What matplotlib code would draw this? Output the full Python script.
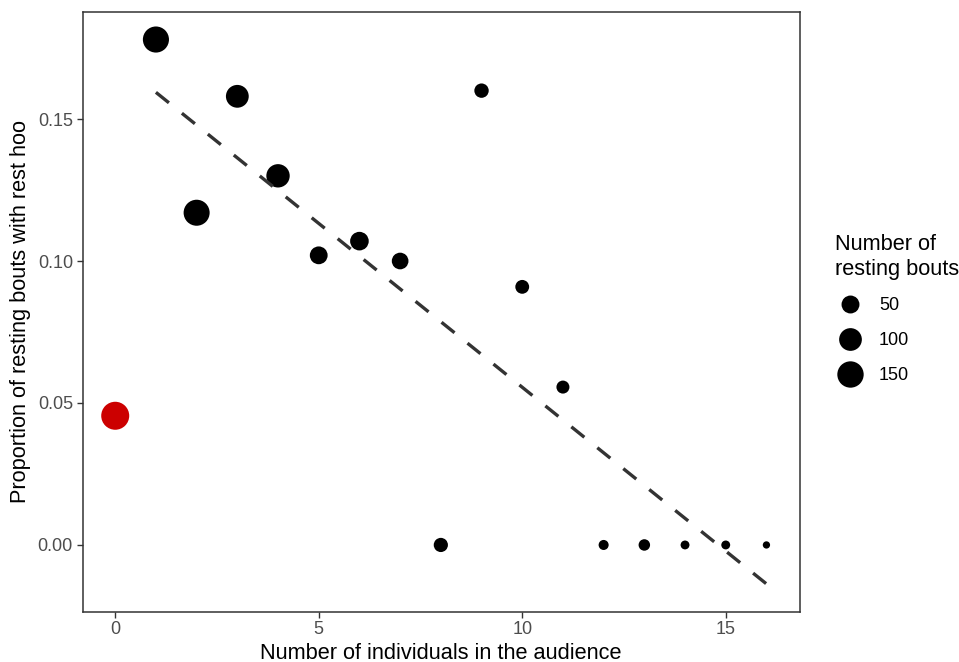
import matplotlib
matplotlib.use("Agg")
import matplotlib.pyplot as plt
from matplotlib.lines import Line2D
import numpy as np

plt.rcParams['font.family'] = ['Liberation Sans', 'DejaVu Sans']

# audience size, proportion of bouts with rest hoo, number of resting bouts
audience = [0, 1, 2, 3, 4, 5, 6, 7, 8, 9, 10, 11, 12, 13, 14, 15, 16]
prop_hoo = [0.0455, 0.178, 0.117, 0.158, 0.130, 0.102, 0.107, 0.100, 0.0,
            0.160, 0.0909, 0.0556, 0.0, 0.0, 0.0, 0.0, 0.0]
n_bouts = [176, 146, 145, 101, 108, 49, 56, 40, 24, 25, 22, 18, 8, 12, 6, 6, 5]
legend_breaks = [50, 100, 150]

# fitted trend (audience >= 1)
fit_x = [1, 16]
fit_y = [0.1594, -0.0137]

N_MIN, N_MAX = 5, 176
D_MIN, D_MAX = 7.3, 28.0   # point diameter in px


def diam_pt(n):
    t = (np.asarray(n, dtype=float) - N_MIN) / (N_MAX - N_MIN)
    d = D_MIN + (D_MAX - D_MIN) * np.sqrt(np.clip(t, 0, 1))
    return d * 0.72


fig = plt.figure(figsize=(9.59, 6.62), dpi=100)
ax = fig.add_axes([0.0862, 0.076, 0.834 - 0.0862, 0.9819 - 0.076])

cols = ['#CC0000' if a == 0 else 'black' for a in audience]
ax.scatter(audience, prop_hoo, s=diam_pt(n_bouts) ** 2, c=cols, linewidths=0, zorder=2)

ln, = ax.plot(fit_x, fit_y, color='#333333', lw=2.4, zorder=3)
ln.set_dashes((5.0, 5.0))
ln.set_dash_capstyle('butt')

ax.set_xlim(-0.8, 16.82)
ax.set_ylim(-0.0235, 0.1877)
ax.set_xticks([0, 5, 10, 15])
ax.set_yticks([0.0, 0.05, 0.10, 0.15])
ax.set_yticklabels(['0.00', '0.05', '0.10', '0.15'])
ax.tick_params(colors='#333333', labelcolor='#4D4D4D', labelsize=13,
               length=4, width=1.0, pad=3)
for sp in ax.spines.values():
    sp.set_color('#333333')
    sp.set_linewidth(1.1)

ax.set_xlabel('Number of individuals in the audience', fontsize=15.7, labelpad=3)
ax.set_ylabel('Proportion of resting bouts with rest hoo', fontsize=15.7, labelpad=5)

handles = [Line2D([], [], ls='none', marker='o', color='black', mec='black', mew=0,
                  markersize=float(diam_pt(b))) for b in legend_breaks]
leg = fig.legend(handles, [str(b) for b in legend_breaks],
                 title='Number of\nresting bouts', loc='upper left',
                 bbox_to_anchor=(0.8707, 0.646), frameon=False,
                 fontsize=13, title_fontsize=15.7, labelspacing=0.99,
                 handletextpad=0.74, handlelength=1.7, borderpad=0,
                 borderaxespad=0)
leg._legend_box.align = 'left'

fig.savefig('out.png', dpi=100)
